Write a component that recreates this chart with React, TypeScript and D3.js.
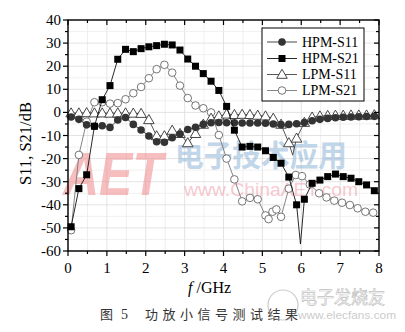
import React from 'react';
import * as d3 from 'd3';

// ---- data ----
const markerFreq = [0.08, 0.28, 0.48, 0.68, 0.88, 1.08, 1.28, 1.48, 1.68, 1.88,
  2.08, 2.28, 2.48, 2.68, 2.88, 3.08, 3.28, 3.48, 3.68, 3.88,
  4.08, 4.28, 4.48, 4.68, 4.88, 5.08, 5.28, 5.48, 5.68, 5.88,
  6.08, 6.28, 6.48, 6.68, 6.88, 7.08, 7.28, 7.48, 7.68, 7.88];

const hpmS11 = [-2, -3, -5.4, -6, -5.8, -6.5, -3.3, -2.2, -5.2, -7.6,
  -10.2, -12.7, -12.9, -11, -9.4, -7.4, -6.4, -5.2, -4.5, -4.4,
  -4.5, -4.5, -4.6, -4.6, -4.6, -4.7, -5.0, -5.3, -5.2, -4.9,
  -4.4, -3.6, -3.0, -2.6, -2.3, -2.1, -2.0, -1.9, -1.8, -1.7];

const hpmS21 = [-49.5, -33, -27, -6, 5.5, 11.6, 23, 27.3, 26.3, 27.6,
  28.4, 28.9, 29.5, 29.2, 27, 23.1, 20, 16.8, 13.5, 9.5,
  2.6, -7.7, -15, -14.7, -15, -16.6, -19.5, -22, -28, -40,
  -37.6, -30.7, -29.3, -27.8, -26.7, -27.8, -28.5, -30, -31.4, -33.9];
const hpmS21Extra: [number, number][] = [[5.98, -57]];

const lpmS11 = [-0.3, -0.3, -0.2, -0.3, -0.3, -0.4, -0.3, -0.3, -0.4, -0.5,
  -3.2, -10.2, -10.2, -7.8, -9.2, -13.2, -9.2, -5.2, -2.6, -1.6,
  -0.8, -1.0, -0.9, -1.0, -1.3, -1.6, -2.6, -5.2, -13.2, -11.2,
  -4.4, -2.1, -1.6, -1.4, -1.3, -1.3, -1.2, -1.2, -1.2, -1.1];
const lpmS11Extra: [number, number][] = [[5.78, -18.5]];

const lpmS21Freq = [0.08, 0.28, 0.48, 0.68, 0.88, 1.08, 1.28, 1.48, 1.68, 1.88,
  2.08, 2.28, 2.48, 2.68, 2.88, 3.08, 3.28, 3.48, 3.68, 3.88,
  4.08, 4.28, 4.48, 4.68, 4.88, 5.08, 5.16, 5.26, 5.36, 5.48,
  5.68, 5.86, 6.02, 6.22, 6.46, 6.65, 6.85, 7.05, 7.25, 7.45, 7.65, 7.85];
const lpmS21 = [-51, -18.4, -4, 4.4, 4.4, 3.8, 4.0, 5.7, 8.3, 11,
  14.8, 18.7, 20.6, 17.2, 11.6, 6.2, 3, 1.8, 0, -9.8,
  -20, -29, -38.5, -37, -37.6, -44.6, -46.2, -43, -42, -45.2,
  -33, -27.1, -27.6, -31.2, -35, -36.8, -38.2, -39.1, -40.1, -41.5, -43, -43.4];

const xTickLabels = ['0', '1', '2', '3', '4', '5', '6', '7', '8'];
const yTickValues = [40, 30, 20, 10, 0, -10, -20, -30, -40, -50, -60];
const legendLabels = ['HPM-S11', 'HPM-S21', 'LPM-S11', 'LPM-S21'];
const markerTypes = ['filledCircle', 'filledSquare', 'openTriangle', 'openCircle'];

const W = 405, H = 332;
const M = { left: 68, right: 379, top: 20, bottom: 251 };

const x = d3.scaleLinear().domain([0, 8]).range([M.left, M.right]);
const y = d3.scaleLinear().domain([-60, 40]).range([M.bottom, M.top]);

const serif = '"Liberation Serif", "Times New Roman", serif';
const cjk = '"Noto Sans CJK SC", sans-serif';

const styles: Record<string, { line: string; fill: string; stroke: string }> = {
  filledCircle: { line: '#333', fill: '#333', stroke: '#333' },
  filledSquare: { line: '#111', fill: '#000', stroke: '#000' },
  openTriangle: { line: '#444', fill: '#fff', stroke: '#333' },
  openCircle: { line: '#777', fill: '#fff', stroke: '#666' },
};

function Marker({ type, cx, cy }: { type: string; cx: number; cy: number }) {
  const s = styles[type];
  if (type === 'filledCircle') return <circle cx={cx} cy={cy} r={3.8} fill={s.fill} />;
  if (type === 'filledSquare') return <rect x={cx - 3.5} y={cy - 3.5} width={7} height={7} fill={s.fill} />;
  if (type === 'openTriangle') {
    const p = d3.symbol(d3.symbolTriangle, 48)();
    return <path d={p as string} transform={`translate(${cx},${cy + 0.8})`} fill={s.fill} stroke={s.stroke} strokeWidth={0.9} />;
  }
  return <circle cx={cx} cy={cy} r={3.8} fill={s.fill} stroke={s.stroke} strokeWidth={0.9} />;
}

function Series({ freqs, vals, extra, type }: { freqs: number[]; vals: number[]; extra: [number, number][]; type: string }) {
  const pts: [number, number][] = freqs.map((f, i) => [f, vals[i]]);
  const all = [...pts, ...extra].sort((a, b) => a[0] - b[0]);
  const line = d3.line<[number, number]>().x(d => x(d[0])).y(d => y(d[1]));
  return (
    <g>
      <path d={line(all) as string} fill="none" stroke={styles[type].line} strokeWidth={0.9} />
      {pts.map((p, i) => <Marker key={i} type={type} cx={x(p[0])} cy={y(p[1])} />)}
    </g>
  );
}

export default function App() {
  const xMinor = d3.range(0, 8.001, 0.5);
  const yMinor = d3.range(-60, 40.001, 5);
  const xMajor = d3.range(0, 8.001, 1);
  const legendY = [42, 58.5, 74.5, 90.5];
  return (
    <svg width={W} height={H} style={{ position: 'absolute', left: 0, top: 0, background: '#fff' }}>
      <rect x={0} y={0} width={W} height={H} fill="#fff" />
      {/* grid */}
      <g>
        {xMinor.map(v => (
          <line key={'gx' + v} x1={x(v)} x2={x(v)} y1={M.top} y2={M.bottom} stroke={Number.isInteger(v) ? '#dcdcdc' : '#ececec'} strokeWidth={0.8} />
        ))}
        {yMinor.map(v => (
          <line key={'gy' + v} x1={M.left} x2={M.right} y1={y(v)} y2={y(v)} stroke={v % 10 === 0 ? '#dcdcdc' : '#ececec'} strokeWidth={0.8} />
        ))}
      </g>
      {/* watermarks */}
      <g opacity={0.55}>
        <text x={63} y={195} fontFamily='"Liberation Sans", Arial, sans-serif' fontWeight="bold" fontStyle="italic" fontSize={62} fill="#f08a8a" textLength={100} lengthAdjust="spacingAndGlyphs">AET</text>
        <text x={175} y={166} fontFamily={cjk} fontWeight="bold" fontSize={30} fill="#8fb6d8" textLength={172} lengthAdjust="spacingAndGlyphs">电子技术应用</text>
        <text x={184} y={196} fontFamily='"Liberation Sans", Arial, sans-serif' fontSize={19} fill="#f0a0aa" textLength={174} lengthAdjust="spacingAndGlyphs">www.ChinaAET.com</text>
      </g>
      {/* series */}
      <Series freqs={lpmS21Freq} vals={lpmS21} extra={[]} type="openCircle" />
      <Series freqs={markerFreq} vals={lpmS11} extra={lpmS11Extra} type="openTriangle" />
      <Series freqs={markerFreq} vals={hpmS11} extra={[]} type="filledCircle" />
      <Series freqs={markerFreq} vals={hpmS21} extra={hpmS21Extra} type="filledSquare" />
      {/* frame */}
      <rect x={M.left} y={M.top} width={M.right - M.left} height={M.bottom - M.top} fill="none" stroke="#000" strokeWidth={1.4} />
      {/* ticks */}
      <g stroke="#000" strokeWidth={1.2}>
        {xMinor.map(v => {
          const len = Number.isInteger(v) ? 5 : 3;
          return (
            <g key={'tx' + v}>
              <line x1={x(v)} x2={x(v)} y1={M.bottom} y2={M.bottom + len} />
              <line x1={x(v)} x2={x(v)} y1={M.top} y2={M.top + len} />
            </g>
          );
        })}
        {yMinor.map(v => {
          const len = v % 10 === 0 ? 5 : 3;
          return (
            <g key={'ty' + v}>
              <line x1={M.left - len} x2={M.left} y1={y(v)} y2={y(v)} />
              <line x1={M.right - len} x2={M.right} y1={y(v)} y2={y(v)} />
            </g>
          );
        })}
      </g>
      {/* tick labels */}
      <g fontFamily={serif} fontSize={15} fill="#000">
        {xMajor.map((v, i) => (
          <text key={'lx' + v} x={x(v)} y={M.bottom + 17} textAnchor="middle" dominantBaseline="central">{xTickLabels[i]}</text>
        ))}
        {yTickValues.map(v => (
          <text key={'ly' + v} x={M.left - 7} y={y(v)} textAnchor="end" dominantBaseline="central">{v < 0 ? '-' + Math.abs(v) : String(v)}</text>
        ))}
      </g>
      {/* axis titles */}
      <text transform={`translate(25,${(M.top + M.bottom) / 2 + 8}) rotate(-90)`} textAnchor="middle" dominantBaseline="central" fontFamily={serif} fontSize={16.5}>S11, S21/dB</text>
      <text x={188} y={293} fontFamily={serif} fontSize={16}>
        <tspan fontStyle="italic">f</tspan>
        <tspan> /GHz</tspan>
      </text>
      {/* legend */}
      <g>
        <rect x={262} y={28} width={102} height={73} fill="#fff" stroke="#000" strokeWidth={1} />
        {legendLabels.map((lab, i) => (
          <g key={lab}>
            <line x1={267} x2={297} y1={legendY[i]} y2={legendY[i]} stroke={styles[markerTypes[i]].line} strokeWidth={0.9} />
            <Marker type={markerTypes[i]} cx={282} cy={legendY[i]} />
            <text x={302} y={legendY[i]} dominantBaseline="central" fontFamily={serif} fontSize={14}>{lab}</text>
          </g>
        ))}
      </g>
      {/* caption */}
      <g fontFamily={cjk} fontSize={13} fill="#333">
        <text x={100} y={319}>图</text>
        <text x={121} y={319} fontFamily={serif} fontSize={14}>5</text>
        <text x={145} y={319} letterSpacing={4.5}>功放小信号测试结果</text>
      </g>
      {/* elecfans watermark */}
      <g opacity={0.6}>
        <circle cx={283} cy={305} r={15} fill="none" stroke="#aaa" strokeWidth={1.2} />
        <text x={300} y={304} fontFamily={cjk} fontSize={18} fill="none" stroke="#999" strokeWidth={0.7} textLength={85} lengthAdjust="spacingAndGlyphs">电子发烧友</text>
        <text x={298} y={319} fontFamily='"Liberation Sans", Arial, sans-serif' fontSize={10} fill="#aaa" textLength={98} lengthAdjust="spacingAndGlyphs">www.elecfans.com</text>
      </g>
    </svg>
  );
}
